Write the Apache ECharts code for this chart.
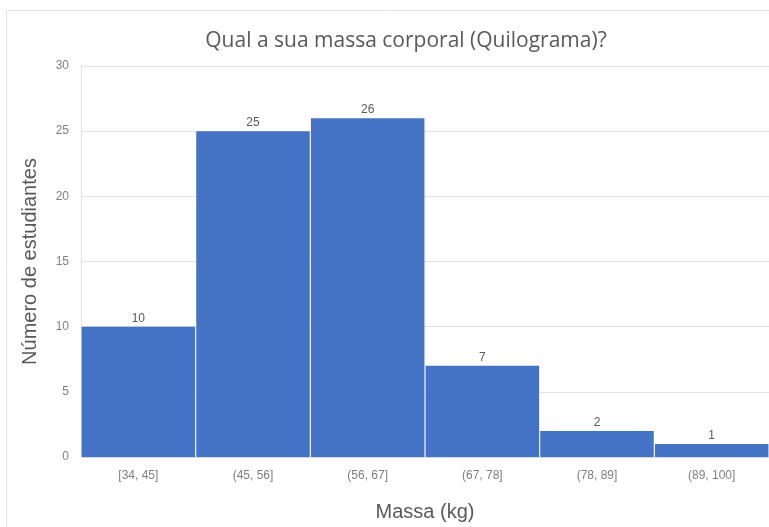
<!DOCTYPE html>
<html>
<head>
<meta charset="utf-8">
<script src="https://cdn.jsdelivr.net/npm/echarts@6/dist/echarts.min.js"></script>
<style>
html, body { margin: 0; padding: 0; background: #fff; }
#chart { width: 769px; height: 527px; }
</style>
</head>
<body>
<div id="chart"></div>
<script>
var categories = ['[34, 45]', '(45, 56]', '(56, 67]', '(67, 78]', '(78, 89]', '(89, 100]'];
var students = [10, 25, 26, 7, 2, 1];

var myChart = echarts.init(document.getElementById('chart'));

var option = {
	backgroundColor : '#fff',
	animation : false,
	title : {
		text : 'Qual a sua massa corporal (Quilograma)?',
		left : 401,
		top : 26,
		textAlign : 'center',
		textStyle : {
			color : '#595959',
			fontFamily : 'Open Sans',
			fontSize : 21,
			fontWeight : 'normal'
		}
	},
	graphic : [ {
		type : 'rect',
		shape : { x : 6.5, y : 10.5, width : 800, height : 600 },
		style : { fill : 'none', stroke : '#e3e3e3', lineWidth : 1 },
		silent : true
	} ],
	grid : {
		left : 81,
		right : 0,
		top : 66,
		bottom : 68
	},
	xAxis : {
		type : 'category',
		data : categories,
		name : 'Massa (kg)',
		nameLocation : 'middle',
		nameGap : 45,
		nameTextStyle : {
			color : '#595959',
			fontFamily : 'Liberation Sans',
			fontSize : 20
		},
		axisLine : { show : true, lineStyle : { color : '#d9d9d9' } },
		axisTick : { show : false },
		axisLabel : {
			color : '#7f7f7f',
			fontFamily : 'Liberation Sans',
			fontSize : 12,
			margin : 13
		}
	},
	yAxis : {
		type : 'value',
		min : 0,
		max : 30,
		interval : 5,
		name : 'Número de estudiantes',
		nameLocation : 'middle',
		nameGap : 41,
		nameTextStyle : {
			color : '#595959',
			fontFamily : 'Liberation Sans',
			fontSize : 20
		},
		axisLine : { show : true, lineStyle : { color : '#e3e3e3' } },
		axisTick : { show : false },
		axisLabel : {
			color : '#7f7f7f',
			fontFamily : 'Liberation Sans',
			fontSize : 12,
			margin : 12
		},
		splitLine : {
			show : true,
			lineStyle : { color : '#e3e3e3' }
		}
	},
	series : [ {
		type : 'bar',
		data : students,
		barCategoryGap : '1%',
		itemStyle : { color : '#4472c4' },
		label : {
			show : true,
			position : 'top',
			distance : 2,
			color : '#595959',
			fontFamily : 'Liberation Sans',
			fontSize : 12
		}
	} ]
};

myChart.setOption(option);
</script>
</body>
</html>
